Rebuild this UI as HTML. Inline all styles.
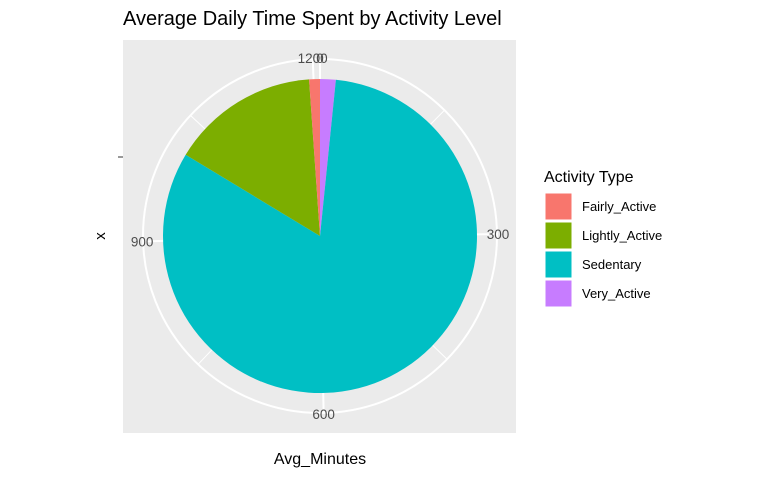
<!DOCTYPE html>
<html><head><meta charset="utf-8"><style>
body{margin:0;background:#fff;font-family:"Liberation Sans",sans-serif}
</style></head><body>
<svg width="772" height="477" xmlns="http://www.w3.org/2000/svg" font-family="Liberation Sans, sans-serif">
<text x="123" y="25" font-size="20" fill="#000">Average Daily Time Spent by Activity Level</text>
<rect x="123" y="40" width="393" height="393" fill="#EBEBEB"/>
<g id="grid"></g>
<g id="slices"></g>
<g id="ticks"></g>
<line x1="118" y1="157" x2="123" y2="157" stroke="#333"/>
<text x="105" y="236" font-size="15" text-anchor="middle" transform="rotate(-90 105 236)">x</text>
<text x="320" y="464" font-size="16" text-anchor="middle">Avg_Minutes</text>
<text x="544" y="182" font-size="16">Activity Type</text>
<g id="legend"></g>
</svg>
<script>
const categories=["Fairly_Active","Lightly_Active","Sedentary","Very_Active"];
const values=[13.4,184,991,19.5];
const colors=["#F8766D","#7CAE00","#00BFC4","#C77CFF"];
const tickValues=[0,300,600,900,1200];
const minorTicks=[150,450,750,1050];
const NS="http://www.w3.org/2000/svg";
const cx=320,cy=236,R=157,Rg=177,Rl=178;
const total=values.reduce((a,b)=>a+b,0);
function ang(v){return v/total*2*Math.PI;}
function pt(v,r){const a=ang(v);return [cx+r*Math.sin(a),cy-r*Math.cos(a)];}
function mk(t,attrs,parent){const e=document.createElementNS(NS,t);for(const k in attrs)e.setAttribute(k,attrs[k]);parent.appendChild(e);return e;}
const grid=document.getElementById('grid');
const gc=mk('circle',{cx:cx,cy:cy,r:Rg,fill:'none',stroke:'#fff','stroke-width':2},grid);


tickValues.forEach(v=>{const p=pt(v,Rg);const l=mk('line',{x1:cx,y1:cy,x2:p[0],y2:p[1],stroke:'#fff','stroke-width':2},grid);

});
minorTicks.forEach(v=>{const p=pt(v,Rg);const l=mk('line',{x1:cx,y1:cy,x2:p[0],y2:p[1],stroke:'#fff','stroke-width':1},grid);

});
const sl=document.getElementById('slices');
let start=0;
for(let i=categories.length-1;i>=0;i--){
 const s=start,e=start+values[i];start=e;
 const p1=pt(s,R),p2=pt(e,R);const large=(e-s)/total>0.5?1:0;
 const path=mk('path',{d:`M${cx},${cy}L${p1[0]},${p1[1]}A${R},${R} 0 ${large} 1 ${p2[0]},${p2[1]}Z`,fill:colors[i]},sl);
 
 
}
const tk=document.getElementById('ticks');
tickValues.forEach(v=>{const p=pt(v,Rl);const t=mk('text',{x:p[0],y:p[1]+5,'font-size':13.5,fill:'#4D4D4D','text-anchor':'middle'},tk);t.textContent=v;

});
const lg=document.getElementById('legend');
categories.forEach((c,i)=>{const y=193+i*29;
 const r=mk('rect',{x:545,y:y,width:27,height:27,fill:colors[i],stroke:'#fff'},lg);
 
 
 const t=mk('text',{x:582,y:y+18,'font-size':13,fill:'#000'},lg);t.textContent=c;
 
 });
</script>
</body></html>
